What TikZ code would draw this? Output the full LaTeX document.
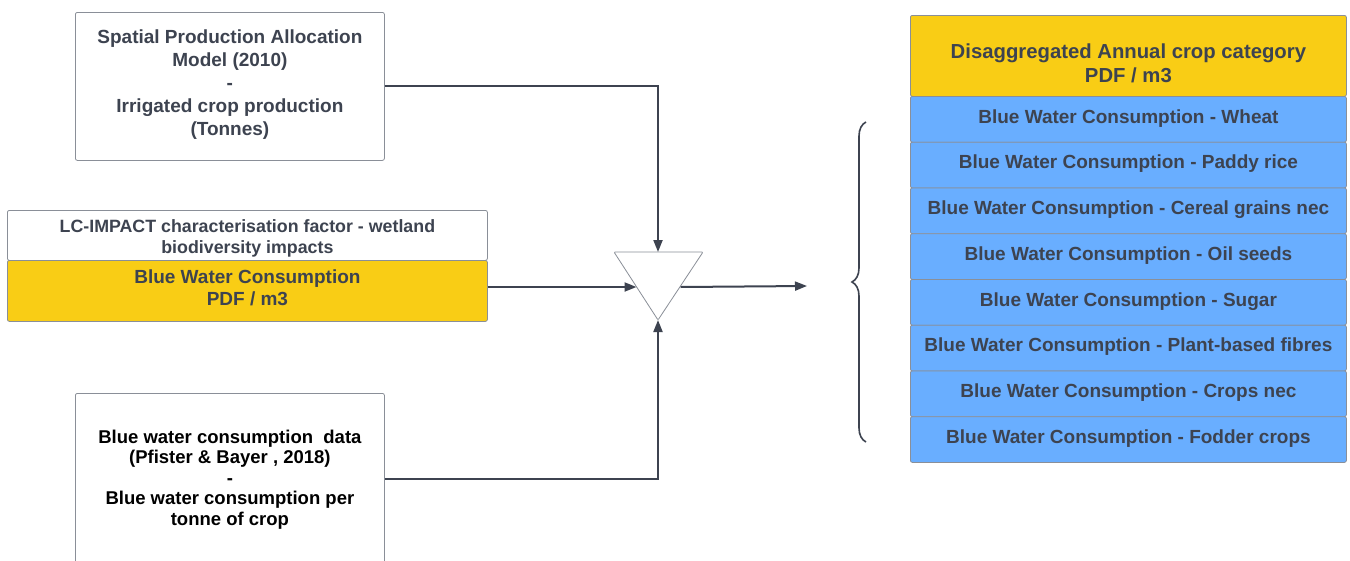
\documentclass[tikz,border=0pt]{standalone}
\usepackage{fontspec}
\setmainfont{Liberation Sans}
\usetikzlibrary{arrows.meta,decorations.pathreplacing}
\definecolor{txt}{HTML}{3D4350}
\definecolor{ln}{HTML}{3D4350}
\definecolor{yel}{HTML}{F9CD15}
\definecolor{blu}{HTML}{69AEFF}
\definecolor{bd}{HTML}{8A8F98}
\begin{document}
\begin{tikzpicture}[x=1pt,y=-1pt,
 box/.style={draw=bd, line width=0.8pt, rounded corners=2pt, anchor=north west, inner sep=0pt},
 lbl/.style={align=center, inner sep=0pt, text=txt, font=\bfseries\fontsize{19}{23}\selectfont},
 row/.style={box, fill=blu, minimum width=436pt, minimum height=45.75pt},
 conn/.style={draw=ln, line width=2pt, -{Triangle[length=12pt,width=9pt]}},
]
\clip (0,0) rectangle (1350,560);
\fill[white] (0,0) rectangle (1350,560);

\node[box, minimum width=309pt, minimum height=148pt,
 label={[lbl, yshift=2pt]center:{Spatial Production Allocation\\Model (2010)\\-\\Irrigated crop production\\(Tonnes)}}] (src1) at (75,12) {};

\node[box, minimum width=480pt, minimum height=50pt,
 label={[lbl, yshift=-3pt, font=\bfseries\fontsize{17.8}{21}\selectfont]center:{LC-IMPACT characterisation factor - wetland\\biodiversity impacts}}] (lcw) at (7,210) {};
\node[box, fill=yel, minimum width=480pt, minimum height=61pt,
 label={[lbl, yshift=3pt, font=\bfseries\fontsize{19}{22}\selectfont]center:{Blue Water Consumption\\PDF / m3}}] (lcy) at (7,260) {};

\node[box, minimum width=309pt, minimum height=172pt,
 label={[lbl, text=black, font=\bfseries\fontsize{18.5}{20.5}\selectfont]center:{Blue water consumption\ \ data\\(Pfister \& Bayer , 2018)\\-\\Blue water consumption per\\tonne of crop}}] (src3) at (75,393) {};

\draw[draw=bd, line width=0.8pt, fill=white, rounded corners=1pt] (614,252) -- (703,252) -- (658,320) -- cycle;
\coordinate (ttop) at (658,252);
\coordinate (tleft) at (636.5,287);
\coordinate (tright) at (680.5,287);
\coordinate (tbot) at (658,320);
\coordinate (outend) at (807,286);

\draw[conn] (src1.east) -| (ttop);
\draw[conn] (lcy.east |- tleft) -- (tleft);
\draw[conn] (src3.east) -| (tbot);
\draw[conn] (tright) -- (outend);

\draw[ln, line width=1.6pt, decorate, decoration={brace, amplitude=14pt}] (866,442) -- (866,122);

\node[box, fill=yel, minimum width=436pt, minimum height=81pt,
 label={[lbl, yshift=-7pt, font=\bfseries\fontsize{20.3}{24}\selectfont]center:{Disaggregated Annual crop category\\PDF / m3}}] (hdr) at (910,15) {};
\node[row, label={[lbl, yshift=1pt]center:{Blue Water Consumption - Wheat}}] (r1) at (910,96) {};
\node[row, label={[lbl, yshift=1pt]center:{Blue Water Consumption - Paddy rice}}] (r2) at (910,141.75) {};
\node[row, label={[lbl, yshift=1pt]center:{Blue Water Consumption - Cereal grains nec}}] (r3) at (910,187.5) {};
\node[row, label={[lbl, yshift=1pt]center:{Blue Water Consumption - Oil seeds}}] (r4) at (910,233.25) {};
\node[row, label={[lbl, yshift=1pt]center:{Blue Water Consumption - Sugar}}] (r5) at (910,279) {};
\node[row, label={[lbl, yshift=1pt]center:{Blue Water Consumption - Plant-based fibres}}] (r6) at (910,324.75) {};
\node[row, label={[lbl, yshift=1pt]center:{Blue Water Consumption - Crops nec}}] (r7) at (910,370.5) {};
\node[row, label={[lbl, yshift=1pt]center:{Blue Water Consumption - Fodder crops}}] (r8) at (910,416.25) {};
\end{tikzpicture}
\end{document}
